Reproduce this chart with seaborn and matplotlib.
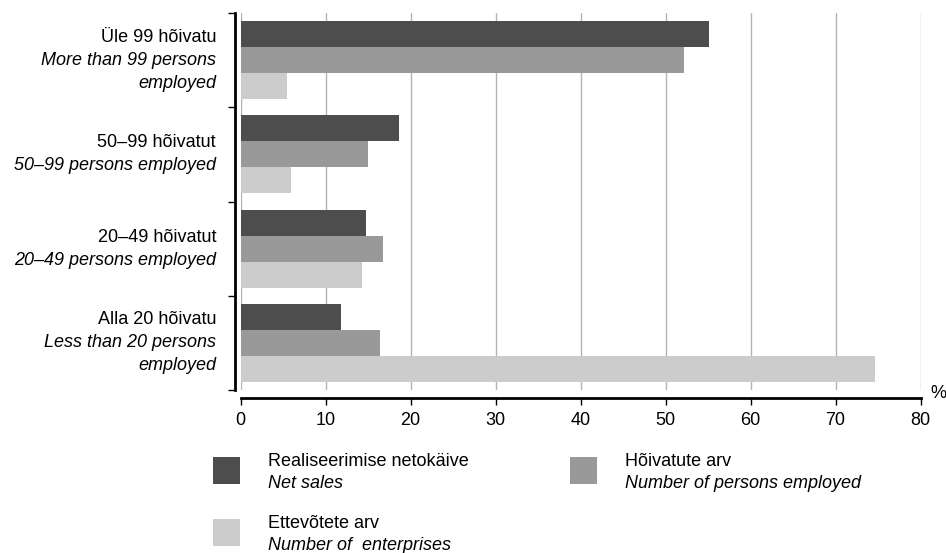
import matplotlib.pyplot as plt
import seaborn as sns
import pandas as pd
from matplotlib.patches import Rectangle

# -----------------------------------------------------------------------------
# DATOS
# -----------------------------------------------------------------------------
groups = ["Üle 99 hõivatu", "50–99 hõivatut", "20–49 hõivatut", "Alla 20 hõivatu"]
groups_en = [
    ["More than 99 persons", "employed"],
    ["50–99 persons employed"],
    ["20–49 persons employed"],
    ["Less than 20 persons", "employed"],
]
series = ["Realiseerimise netokäive", "Hõivatute arv", "Ettevõtete arv"]
series_en = ["Net sales", "Number of persons employed", "Number of  enterprises"]
net_sales = [55.1, 18.7, 14.8, 11.8]
persons = [52.2, 15.0, 16.8, 16.4]
enterprises = [5.5, 5.9, 14.3, 74.6]
x_ticks = [0, 10, 20, 30, 40, 50, 60, 70, 80]

colors = ["#4d4d4d", "#999999", "#cccccc"]
FS = 13

df = pd.DataFrame(
    {
        "group": groups * 3,
        "series": [s for s in series for _ in groups],
        "value": net_sales + persons + enterprises,
    }
)

sns.set_style("white")
plt.rcParams["font.family"] = ["Liberation Sans", "DejaVu Sans"]
plt.rcParams["text.color"] = "black"
plt.rcParams["xtick.color"] = "black"
plt.rcParams["ytick.color"] = "black"

fig = plt.figure(figsize=(9.46, 5.53), dpi=100)
ax = fig.add_axes([240.5 / 946, 1 - 390 / 553, (920.5 - 240.5) / 946, (390 - 13) / 553])

sns.barplot(
    data=df,
    y="group",
    x="value",
    hue="series",
    order=groups,
    hue_order=series,
    palette=colors,
    orient="h",
    width=0.83,
    saturation=1,
    linewidth=0,
    legend=False,
    ax=ax,
)

ax.set_xlim(0, 80)
ax.set_ylim(3.5, -0.5)
ax.set_xticks(x_ticks)
ax.set_xticklabels([str(t) for t in x_ticks])
ax.set_yticks([-0.5, 0.5, 1.5, 2.5, 3.5])
ax.set_yticklabels([])
ax.set_xlabel("")
ax.set_ylabel("")

ax.grid(axis="x", color="#b3b3b3", linewidth=1)
ax.set_axisbelow(True)
for gl in ax.get_xgridlines():
    gl.set_clip_on(False)

for side in ["top", "right"]:
    ax.spines[side].set_visible(False)
ax.spines["left"].set_position(("outward", 4))
ax.spines["bottom"].set_position(("outward", 6))
for side in ["left", "bottom"]:
    ax.spines[side].set_color("black")
    ax.spines[side].set_linewidth(2)
ax.tick_params(axis="both", direction="out", length=5, width=1, color="black",
               labelcolor="black", left=True, bottom=True, labelsize=FS)
ax.tick_params(axis="x", pad=5)

# etiquetas de grupos (primera línea normal, resto en cursiva)
line_h = 23 / 553
for i, (g, en) in enumerate(zip(groups, groups_en)):
    lines = [(g, "normal")] + [(t, "italic") for t in en]
    yc = ax.transData.transform((0, i))[1] / fig.dpi / 5.53
    n = len(lines)
    for k, (txt, st) in enumerate(lines):
        y = yc + (n - 1) / 2 * line_h - k * line_h
        fig.text(216 / 946, y, txt, ha="right", va="center", fontsize=FS,
                 style=st)

fig.text(938 / 946, 1 - 393 / 553, "%", ha="center", va="center", fontsize=FS)

# leyenda manual
legend_pos = [(213, 457), (570, 457), (213, 519)]
for (px, py), c, s, se in zip(legend_pos, colors, series, series_en):
    fig.patches.append(
        Rectangle((px / 946, 1 - (py + 27) / 553), 27 / 946, 27 / 553,
                  transform=fig.transFigure, facecolor=c, edgecolor="none")
    )
    fig.text((px + 55) / 946, 1 - (py + 5) / 553, s, ha="left", va="center",
             fontsize=FS)
    fig.text((px + 55) / 946, 1 - (py + 27) / 553, se, ha="left", va="center",
             fontsize=FS, style="italic")

fig.savefig("out.png", dpi=100)
